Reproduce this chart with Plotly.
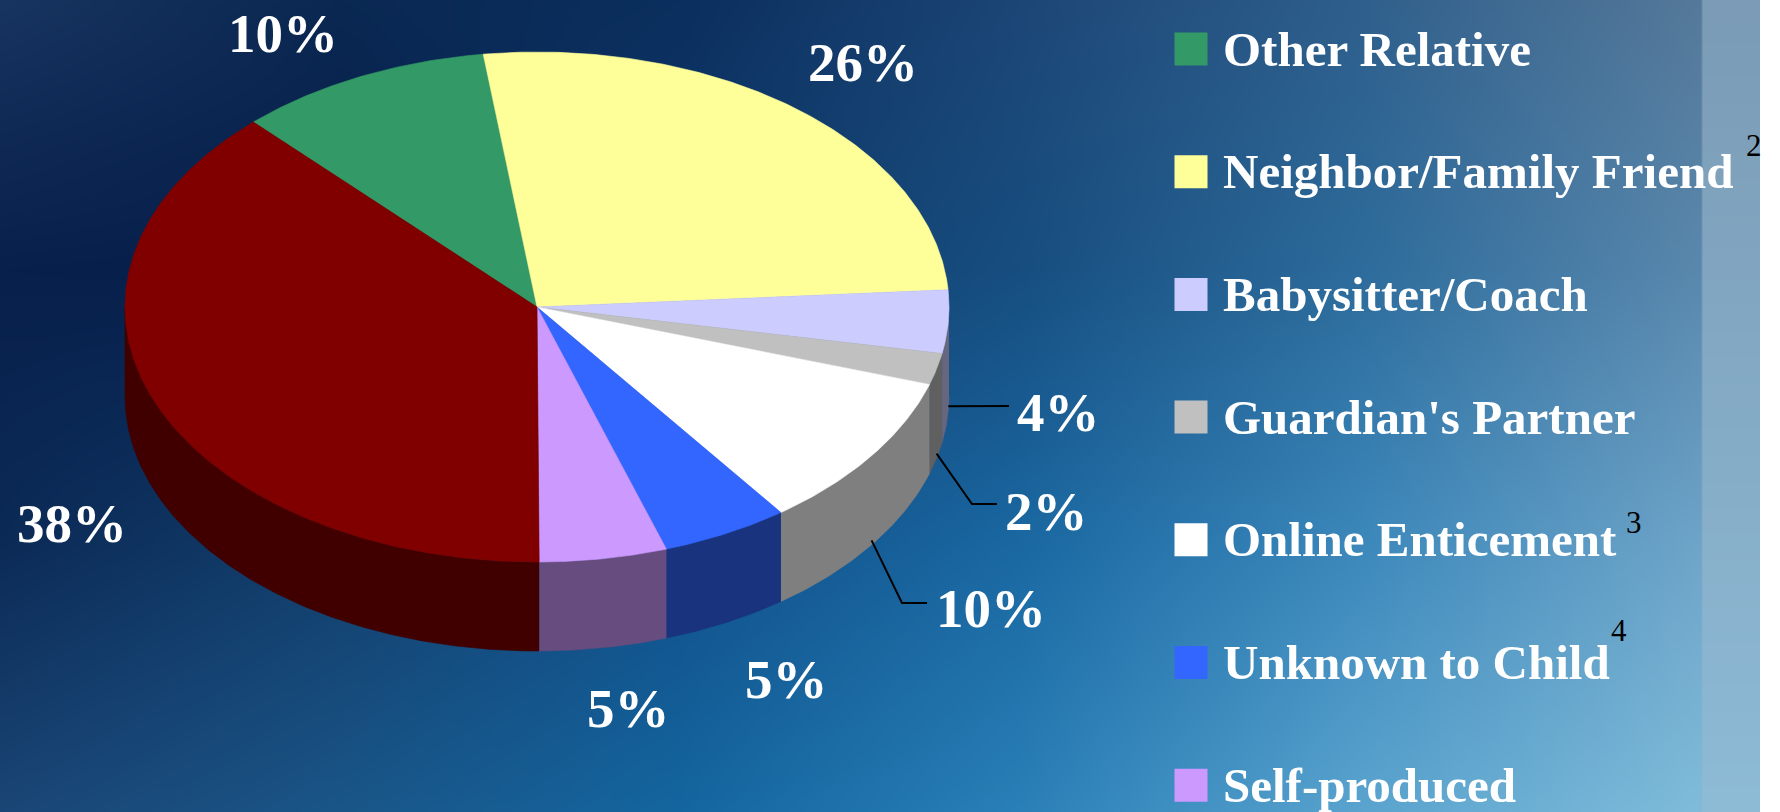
import base64
import struct
import zlib

import numpy as np
import plotly.graph_objects as go

# ---------------- data ----------------
categories = ["Other Relative", "Neighbor/Family Friend", "Babysitter/Coach",
              "Guardian's Partner", "Online Enticement", "Unknown to Child",
              "Self-produced", "Parent/Guardian"]
values = [10, 26, 4, 2, 10, 5, 5, 38]
footnotes = ["", "2", "", "", "3", "4", "", ""]
colors = ["#339966", "#ffff99", "#ccccff", "#c0c0c0",
          "#ffffff", "#3366ff", "#cc99ff", "#800000"]

# ---------------- layout constants ----------------
W, H = 1780, 812
CX, CY, RX, RY, DEPTH = 537, 307, 412, 255, 89
START_DEG = -43.5          # clockwise from 12 o'clock (pie rotation)
SERIF = "Liberation Serif"
LABEL_FONT = dict(family=SERIF, size=55, color="white", weight="bold")
LEGEND_FONT = dict(family=SERIF, size=49, color="white", weight="bold")
NOTE_FONT = dict(family=SERIF, size=31, color="black")
label_pos = [(283, 33), (863, 62), (1058, 412), (1046, 511), (991, 608), (786, 679), (628, 708), (72, 523)]
leader_knee = {2: [(1009, 406)], 3: [(972, 504), (997, 504)], 4: [(902, 603), (927, 603)]}
note_pos = {1: (1754, 145), 4: (1634, 522), 5: (1619, 630)}
LEG_X_SQ, LEG_X_TXT, LEG_Y0, LEG_DY = 1191, 1221, 49, 122.7


def darker(hex_color, f=0.5):
    h = hex_color.lstrip("#")
    r, g, b = (int(h[i:i + 2], 16) for i in (0, 2, 4))
    return "#%02x%02x%02x" % (int(r * f), int(g * f), int(b * f))


def ell(t_deg, dy=0.0):
    t = np.radians(t_deg)
    return CX + RX * np.sin(t), CY - RY * np.cos(t) + dy


# ---------------- background image (gradient) ----------------
def hex2rgb(h):
    h = h.lstrip("#")
    return [int(h[i:i + 2], 16) for i in (0, 2, 4)]


gx = np.array([0, 340, 680, 1020, 1360, 1700], float)
gy = np.array([0, 270, 540, 812], float)
grid = np.array([[hex2rgb(c) for c in row] for row in [
    ["#183460", "#0a2852", "#0b2f5e", "#1c4676", "#2f5f8c", "#55799a"],
    ["#08204c", "#061e4a", "#0f3a6c", "#174e80", "#2d6c9c", "#5a88ad"],
    ["#0c2a56", "#123e6c", "#12508a", "#1a68a2", "#3c88bb", "#6ea4c8"],
    ["#1a4676", "#1a5688", "#1466a0", "#2a80b8", "#5aa4cf", "#80bcda"],
]], float)
SCALE = 2
BW, BH = 1760 // SCALE, 812 // SCALE
px = (np.arange(BW) + 0.5) * SCALE
py = (np.arange(BH) + 0.5) * SCALE
tmp = np.stack([np.stack([np.interp(px, gx, grid[j, :, c]) for c in range(3)], -1) for j in range(len(gy))])
img = np.stack([np.stack([np.interp(py, gy, tmp[:, i, c]) for c in range(3)], -1) for i in range(BW)], 1)
strip = px >= 1703
top_c, bot_c = np.array(hex2rgb("#7b9bb6")), np.array(hex2rgb("#8ebbd6"))
fr = (py / 812.0)[:, None]
img[:, strip, :] = (top_c * (1 - fr) + bot_c * fr)[:, None, :]
img = np.clip(img, 0, 255).astype(np.uint8)


def png_uri(arr):
    h, w, _ = arr.shape
    raw = b"".join(b"\x00" + arr[i].tobytes() for i in range(h))

    def chunk(t, d):
        return struct.pack(">I", len(d)) + t + d + struct.pack(">I", zlib.crc32(t + d) & 0xffffffff)

    png = (b"\x89PNG\r\n\x1a\n" + chunk(b"IHDR", struct.pack(">IIBBBBB", w, h, 8, 2, 0, 0, 0))
           + chunk(b"IDAT", zlib.compress(raw, 9)) + chunk(b"IEND", b""))
    return "data:image/png;base64," + base64.b64encode(png).decode()


# ---------------- build figure ----------------
fig = go.Figure()
total = float(sum(values))
bounds = [START_DEG]
for v in values:
    bounds.append(bounds[-1] + 360.0 * v / total)

# side walls (front half: 90..270 deg)
for i, v in enumerate(values):
    a, b = bounds[i], bounds[i + 1]
    for lo, hi in [(90, 270), (450, 630), (-270, -90)]:
        s, e = max(a, lo), min(b, hi)
        if e <= s:
            continue
        t = np.linspace(s, e, max(3, int((e - s) * 2)))
        xt, yt = ell(t)
        xb, yb = ell(t[::-1], DEPTH)
        fig.add_trace(go.Scatter(x=np.r_[xt, xb], y=np.r_[yt, yb], fill="toself",
                                 fillcolor=darker(colors[i]), mode="lines",
                                 line=dict(width=0.6, color=darker(colors[i])),
                                 hoverinfo="skip", showlegend=False))

# top faces
for i, v in enumerate(values):
    a, b = bounds[i], bounds[i + 1]
    t = np.linspace(a, b, max(3, int((b - a) * 2)))
    xa, ya = ell(t)
    fig.add_trace(go.Scatter(x=np.r_[CX, xa, CX], y=np.r_[CY, ya, CY], fill="toself",
                             fillcolor=colors[i], mode="lines",
                             line=dict(width=0.6, color=colors[i]),
                             name=categories[i], hoverinfo="name", showlegend=False))

# leader lines (start on the side wall at slice mid-angle)
for i, knee in leader_knee.items():
    mid = 0.5 * (bounds[i] + bounds[i + 1])
    sx, sy = ell(mid, DEPTH * 0.95)
    xs = [sx] + [p[0] for p in knee]
    ys = [sy] + [p[1] for p in knee]
    fig.add_trace(go.Scatter(x=xs, y=ys, mode="lines", line=dict(color="black", width=2),
                             hoverinfo="skip", showlegend=False))

# percentage labels
for i, v in enumerate(values):
    x, y = label_pos[i]
    fig.add_annotation(x=x, y=y, text="%d%%" % round(100 * v / total), showarrow=False,
                       xanchor="center", yanchor="middle", font=LABEL_FONT)

# legend (custom, matches slide layout)
leg_y = [LEG_Y0 + LEG_DY * k for k in range(len(categories))]
fig.add_trace(go.Scatter(x=[LEG_X_SQ] * len(categories), y=leg_y, mode="markers",
                         marker=dict(symbol="square", size=33, color=colors, line=dict(width=0)),
                         hoverinfo="skip", showlegend=False))
for k, name in enumerate(categories):
    fig.add_annotation(x=LEG_X_TXT, y=leg_y[k], text=name, showarrow=False,
                       xanchor="left", yanchor="middle", font=LEGEND_FONT)
    if footnotes[k] and k in note_pos:
        nx, ny = note_pos[k]
        fig.add_annotation(x=nx, y=ny, text=footnotes[k], showarrow=False,
                           xanchor="center", yanchor="middle", font=NOTE_FONT)

fig.update_layout(
    width=W, height=H, margin=dict(l=0, r=0, t=0, b=0),
    paper_bgcolor="white", plot_bgcolor="rgba(0,0,0,0)",
    xaxis=dict(range=[0, W], visible=False, fixedrange=True),
    yaxis=dict(range=[H, 0], visible=False, fixedrange=True),
    images=[dict(source=png_uri(img), xref="paper", yref="paper", x=0, y=1,
                 sizex=1760 / W, sizey=1, sizing="stretch", layer="below")],
    showlegend=False,
)

fig.write_html("out.html", config={"displayModeBar": False},
               post_script="document.body.style.margin='0';document.body.style.overflow='hidden';")
